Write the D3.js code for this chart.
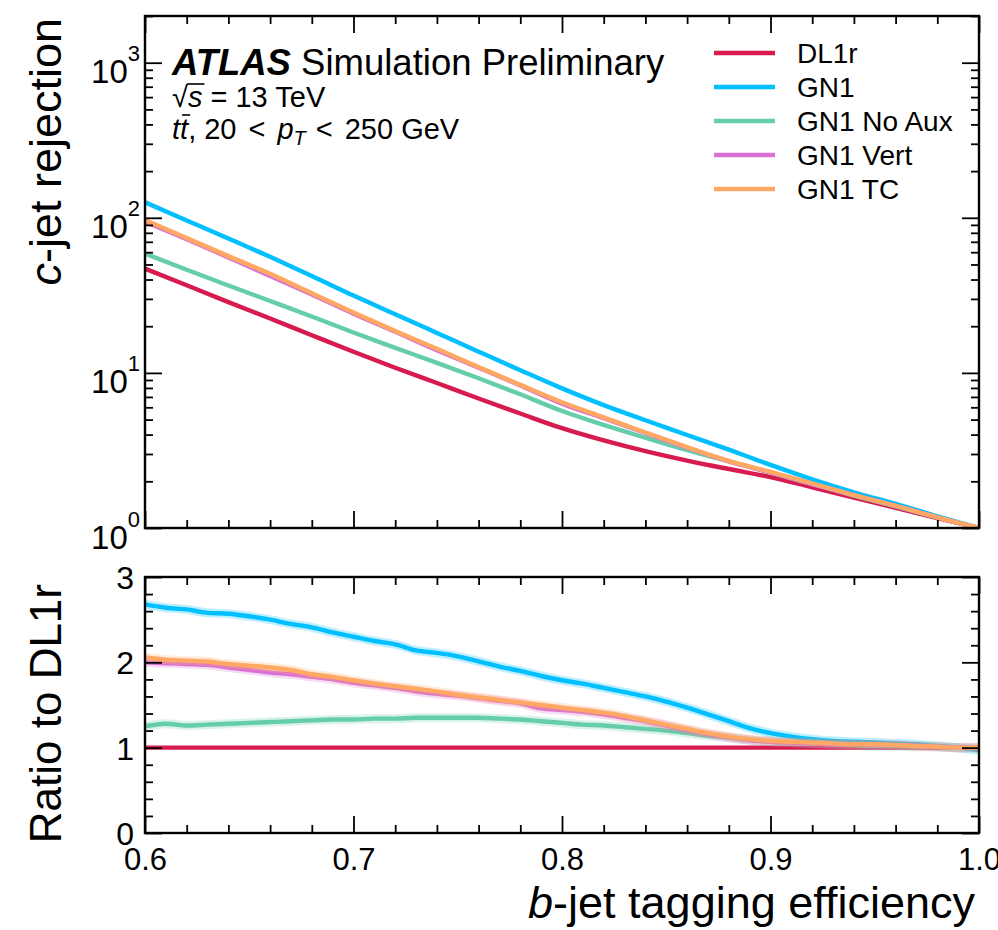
<!DOCTYPE html>
<html><head><meta charset="utf-8">
<script src="https://cdn.jsdelivr.net/npm/d3@7/dist/d3.min.js"></script>
<style>
body{margin:0;background:#fff}
svg{display:block;background:#fff}
text{font-family:"Liberation Sans",Arial,Helvetica,sans-serif;fill:#000}
</style>
</head><body>
<svg id="c" width="998" height="930"></svg>
<script>
// ---------------- data ----------------
const series = ["DL1r", "GN1", "GN1 No Aux", "GN1 Vert", "GN1 TC"];
const colors = ["#d81b4f", "#00bfff", "#66cdaa", "#da70d6", "#ffa864"];

// b-jet efficiency grid for the rejection curves (top panel)
const effTop = [0.60,0.62,0.64,0.66,0.68,0.70,0.72,0.74,0.76,0.78,0.80,0.82,0.84,0.86,0.88,0.90,0.92,0.94,0.96,0.98,1.00];
const rejDL1r  = [47.0,36.7,28.6,22.4,17.5,13.7,10.8,8.6,6.84,5.47,4.40,3.67,3.13,2.72,2.40,2.13,1.83,1.57,1.35,1.16,1.0];
const rejGN1   = [126,96.2,73.5,56.0,42.2,31.5,23.9,18.1,13.7,10.4,7.95,6.20,4.95,3.98,3.20,2.55,2.06,1.70,1.43,1.19,1.0];
const rejNoAux = [58.8,46.2,36.6,29.1,23.1,18.2,14.5,11.6,9.23,7.28,5.68,4.62,3.82,3.18,2.69,2.28,1.92,1.62,1.38,1.17,1.0];
const rejVert  = [94.0,72.7,55.5,42.1,32.0,24.1,18.4,14.0,10.8,8.31,6.34,5.10,4.10,3.29,2.69,2.28,1.92,1.63,1.39,1.17,1.0];
const rejTC    = [96.8,74.1,56.6,43.5,32.6,24.5,18.6,14.3,10.9,8.37,6.47,5.17,4.13,3.32,2.71,2.30,1.94,1.63,1.39,1.17,1.0];

// b-jet efficiency grid for the ratio curves (bottom panel)
const effRatio = [0.60,0.61,0.62,0.63,0.64,0.65,0.66,0.67,0.68,0.69,0.70,0.71,0.72,0.73,0.74,0.75,0.76,0.77,0.78,0.79,0.80,
                  0.81,0.82,0.83,0.84,0.85,0.86,0.87,0.88,0.89,0.90,0.91,0.92,0.93,0.94,0.95,0.96,0.97,0.98,0.99,1.00];
const ratioDL1r  = [1,1,1,1,1,1,1,1,1,1,1,1,1,1,1,1,1,1,1,1,1,1,1,1,1,1,1,1,1,1,1,1,1,1,1,1,1,1,1,1,1];
const ratioGN1   = [2.68,2.64,2.62,2.58,2.57,2.54,2.50,2.45,2.41,2.35,2.30,2.25,2.21,2.14,2.11,2.07,2.01,1.95,1.90,1.84,1.79,
                    1.75,1.70,1.65,1.60,1.54,1.47,1.39,1.31,1.23,1.17,1.13,1.10,1.08,1.07,1.06,1.05,1.04,1.02,1.00,0.97];
const ratioNoAux = [1.25,1.28,1.26,1.27,1.28,1.29,1.30,1.31,1.32,1.33,1.33,1.34,1.34,1.35,1.35,1.35,1.35,1.34,1.33,1.31,1.29,
                    1.27,1.26,1.24,1.22,1.20,1.17,1.14,1.12,1.09,1.07,1.06,1.05,1.04,1.03,1.02,1.02,1.01,1.01,1.00,1.00];
const ratioVert  = [2.00,1.99,1.98,1.97,1.94,1.91,1.88,1.86,1.83,1.80,1.76,1.73,1.70,1.66,1.63,1.61,1.58,1.55,1.52,1.46,1.44,
                    1.42,1.39,1.35,1.31,1.26,1.21,1.16,1.12,1.09,1.07,1.06,1.05,1.04,1.04,1.03,1.03,1.02,1.01,1.00,1.00];
const ratioTC    = [2.06,2.03,2.02,2.01,1.98,1.96,1.94,1.91,1.86,1.83,1.79,1.75,1.72,1.69,1.66,1.62,1.59,1.56,1.53,1.50,1.47,
                    1.44,1.41,1.37,1.32,1.27,1.22,1.17,1.13,1.10,1.08,1.07,1.06,1.05,1.04,1.04,1.03,1.02,1.01,1.00,1.00];

const rejAll = [rejDL1r, rejGN1, rejNoAux, rejVert, rejTC];
const ratioAll = [ratioDL1r, ratioGN1, ratioNoAux, ratioVert, ratioTC];

// ticks
const xMajor = [0.6,0.7,0.8,0.9,1.0];
const xMinor = [0.62,0.64,0.66,0.68,0.72,0.74,0.76,0.78,0.82,0.84,0.86,0.88,0.92,0.94,0.96,0.98];
const xTickLabels = ["0.6","0.7","0.8","0.9","1.0"];
const yLogMajor = [1,10,100,1000];
const yLogExp = ["0","1","2","3"];
const yLogMinor = [2,3,4,5,6,7,8,9,20,30,40,50,60,70,80,90,200,300,400,500,600,700,800,900,2000];
const yRatioMajor = [0,1,2,3];
const yRatioMinor = [0.2,0.4,0.6,0.8,1.2,1.4,1.6,1.8,2.2,2.4,2.6,2.8];

// ---------------- layout ----------------
const L = 145, R = 979;
const top1 = 16, bot1 = 528;
const top2 = 577, bot2 = 833;
const MAJ = 17, MIN = 8;

const svg = d3.select("#c");
const x = d3.scaleLinear().domain([0.6, 1.0]).range([L, R]);
const yTop = d3.scaleLog().domain([1, 2000]).range([bot1, top1]);
const yBot = d3.scaleLinear().domain([0, 3]).range([bot2, top2]);

function cleanAxis(g){ g.select(".domain").remove(); g.selectAll("line").attr("stroke","#000").attr("stroke-width",1.8); }

function drawAxes(yScale, yMaj, yMin, top, bot, yLabelFn, showX){
  const xb = svg.append("g").attr("transform",`translate(0,${bot})`)
    .call(d3.axisBottom(x).tickValues(xMajor).tickSize(-MAJ).tickPadding(8)
      .tickFormat((d,i)=> showX ? xTickLabels[i] : ""));
  cleanAxis(xb);
  xb.selectAll("text").attr("font-size",31).attr("dy","0.95em");
  cleanAxis(svg.append("g").attr("transform",`translate(0,${bot})`)
    .call(d3.axisBottom(x).tickValues(xMinor).tickSize(-MIN).tickFormat("")));
  cleanAxis(svg.append("g").attr("transform",`translate(0,${top})`)
    .call(d3.axisTop(x).tickValues(xMajor).tickSize(-MAJ).tickFormat("")));
  cleanAxis(svg.append("g").attr("transform",`translate(0,${top})`)
    .call(d3.axisTop(x).tickValues(xMinor).tickSize(-MIN).tickFormat("")));
  const yl = svg.append("g").attr("transform",`translate(${L},0)`)
    .call(d3.axisLeft(yScale).tickValues(yMaj).tickSize(-MAJ).tickPadding(11).tickFormat(""));
  cleanAxis(yl);
  yLabelFn(yl);
  cleanAxis(svg.append("g").attr("transform",`translate(${L},0)`)
    .call(d3.axisLeft(yScale).tickValues(yMin).tickSize(-MIN).tickFormat("")));
  cleanAxis(svg.append("g").attr("transform",`translate(${R},0)`)
    .call(d3.axisRight(yScale).tickValues(yMaj).tickSize(-MAJ).tickFormat("")));
  cleanAxis(svg.append("g").attr("transform",`translate(${R},0)`)
    .call(d3.axisRight(yScale).tickValues(yMin).tickSize(-MIN).tickFormat("")));
  svg.append("rect").attr("x",L).attr("y",top).attr("width",R-L).attr("height",bot-top)
    .attr("fill","none").attr("stroke","#000").attr("stroke-width",2.4);
}

const defs = svg.append("defs");
defs.append("clipPath").attr("id","clipTop").append("rect").attr("x",L).attr("y",top1).attr("width",R-L).attr("height",bot1-top1);
defs.append("clipPath").attr("id","clipBot").append("rect").attr("x",L).attr("y",top2).attr("width",R-L+4).attr("height",bot2-top2);

// ---------- top panel curves ----------
const gTop = svg.append("g").attr("clip-path","url(#clipTop)");
rejAll.forEach((arr, k) => {
  const line = d3.line().curve(d3.curveMonotoneX).x((d,i)=>x(effTop[i])).y(d=>yTop(d));
  gTop.append("path").datum(arr).attr("d", line).attr("fill","none")
    .attr("stroke", colors[k]).attr("stroke-width", 4.4).attr("stroke-linejoin","round");
});

// ---------- bottom panel curves ----------
const gBot = svg.append("g").attr("clip-path","url(#clipBot)");
ratioAll.forEach((arr, k) => {
  const line = d3.line().curve(d3.curveMonotoneX).x((d,i)=>x(effRatio[i])).y(d=>yBot(d));
  if (k > 0) {
    gBot.append("path").datum(arr).attr("d", line).attr("fill","none")
      .attr("stroke", colors[k]).attr("stroke-opacity",0.25).attr("stroke-width", 9).attr("stroke-linejoin","round");
  }
  gBot.append("path").datum(arr).attr("d", line).attr("fill","none")
    .attr("stroke", colors[k]).attr("stroke-width", 4.4).attr("stroke-linejoin","round");
});

// ---------- axes ----------
drawAxes(yTop, yLogMajor, yLogMinor, top1, bot1, (g)=>{
  g.selectAll(".tick").each(function(d,i){
    const t = d3.select(this).select("text");
    t.text(null).attr("dy",null).attr("y",20).attr("font-size",33).attr("x",-5).attr("text-anchor","end");
    t.append("tspan").text("10");
    t.append("tspan").attr("dy",-22).attr("font-size",22).text(yLogExp[i]);
  });
}, false);

drawAxes(yBot, yRatioMajor, yRatioMinor, top2, bot2, (g)=>{
  g.selectAll(".tick").each(function(d,i){
    const t = d3.select(this).select("text");
    t.text(String(yRatioMajor[i])).attr("font-size",32).attr("x",-11).attr("dy","0.36em");
  });
}, true);

// ---------- axis titles ----------
const yt1 = svg.append("text").attr("transform",`translate(61,18) rotate(-90)`)
  .attr("text-anchor","end").attr("font-size",45);
yt1.append("tspan").attr("font-style","italic").text("c");
yt1.append("tspan").text("-jet rejection");

svg.append("text").attr("transform",`translate(61,584) rotate(-90)`)
  .attr("text-anchor","end").attr("font-size",44).text("Ratio to DL1r");

const xt = svg.append("text").attr("x",975).attr("y",918).attr("text-anchor","end").attr("font-size",45);
xt.append("tspan").attr("font-style","italic").text("b");
xt.append("tspan").text("-jet tagging efficiency");

// ---------- ATLAS label ----------
const a1 = svg.append("text").attr("x",172).attr("y",75).attr("font-size",36.5);
a1.append("tspan").attr("font-weight","bold").attr("font-style","italic").text("ATLAS");
a1.append("tspan").text(" Simulation Preliminary");

const a2 = svg.append("text").attr("x",172).attr("y",107).attr("font-size",29);
a2.append("tspan").text("\u221A");
a2.append("tspan").attr("font-style","italic").text("s");
a2.append("tspan").text(" = 13 TeV");
{
  const node = a2.node();
  const s0 = node.getStartPositionOfChar(1), s1 = node.getEndPositionOfChar(1);
  svg.append("line").attr("x1",s0.x-1).attr("x2",s1.x+2).attr("y1",107-23).attr("y2",107-23)
    .attr("stroke","#000").attr("stroke-width",1.6);
}

const a3 = svg.append("text").attr("x",172).attr("y",139).attr("font-size",29);
a3.append("tspan").attr("font-style","italic").text("tt");
a3.append("tspan").text(", 20");
a3.append("tspan").attr("dx",12).text("<");
a3.append("tspan").attr("dx",12).attr("font-style","italic").text("p");
a3.append("tspan").attr("font-style","italic").attr("font-size",20).attr("dy",6).text("T");
a3.append("tspan").attr("dy",-6).attr("dx",10).text("<");
a3.append("tspan").attr("dx",12).text("250 GeV");
{
  const node = a3.node();
  const s0 = node.getStartPositionOfChar(1), s1 = node.getEndPositionOfChar(1);
  svg.append("line").attr("x1",s0.x+2).attr("x2",s1.x+2).attr("y1",139-24).attr("y2",139-24)
    .attr("stroke","#000").attr("stroke-width",1.6);
}

// ---------- legend ----------
const legY0 = 53, legDY = 34;
series.forEach((name,k)=>{
  const yy = legY0 + k*legDY;
  svg.append("line").attr("x1",714).attr("x2",775).attr("y1",yy).attr("y2",yy)
    .attr("stroke",colors[k]).attr("stroke-width",4.4);
  svg.append("text").attr("x",797).attr("y",yy).attr("dy","0.36em").attr("font-size",28).text(name);
});
</script>
</body></html>
